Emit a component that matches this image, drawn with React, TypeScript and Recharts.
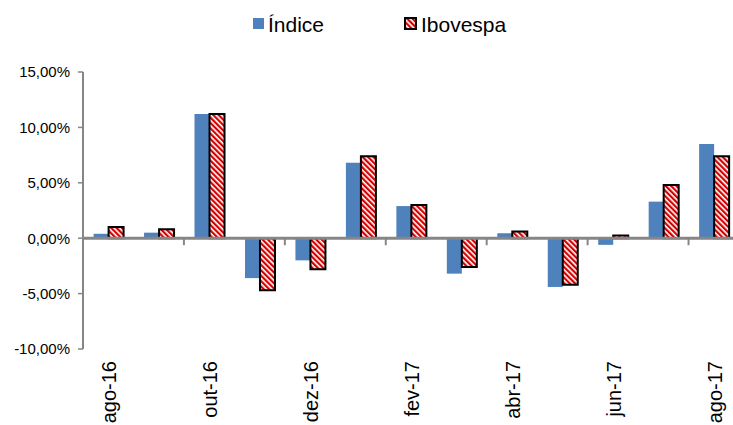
import React from 'react';
import { BarChart, Bar, XAxis, YAxis, ReferenceLine } from 'recharts';

const months = ['ago-16', 'set-16', 'out-16', 'nov-16', 'dez-16', 'jan-17', 'fev-17', 'mar-17', 'abr-17', 'mai-17', 'jun-17', 'jul-17', 'ago-17'];
const indice = [0.4, 0.5, 11.2, -3.6, -2.0, 6.8, 2.9, -3.2, 0.45, -4.4, -0.6, 3.3, 8.5];
const ibovespa = [1.0, 0.8, 11.2, -4.7, -2.8, 7.4, 3.0, -2.6, 0.6, -4.2, 0.25, 4.8, 7.4];
const yTicks = [-10, -5, 0, 5, 10, 15];

const data = months.map((m, i) => ({ month: m, indice: indice[i], ibovespa: ibovespa[i] }));

const FONT = '"Liberation Sans", Arial, sans-serif';
const BLUE = '#4F81BD';
const RED = '#D40000';
const GREY = '#868686';

const fmtPct = (v: number) => v.toFixed(2).replace('.', ',') + '%';

const MonthTick = (props: any) => {
  const { x, y, payload } = props;
  const ty = y + 4;
  return (
    <text
      x={x}
      y={ty}
      dy={1}
      transform={`rotate(-90 ${x} ${ty})`}
      textAnchor="end"
      dominantBaseline="central"
      fontSize={20}
      fontFamily={FONT}
      fill="#000"
    >
      {payload.value}
    </text>
  );
};

// zero axis line with tick marks every two categories
const ZeroAxis = (props: any) => {
  const { x1, y1, x2 } = props;
  const band = (x2 - x1) / months.length;
  const marks = [];
  for (let i = 2; i < months.length; i += 2) {
    const x = x1 + band * i;
    marks.push(<line key={i} x1={x} x2={x} y1={y1} y2={y1 + 7} stroke={GREY} strokeWidth={2} />);
  }
  return (
    <g>
      <line x1={x1} x2={x2} y1={y1} y2={y1} stroke={GREY} strokeWidth={3} />
      {marks}
    </g>
  );
};

const HatchPattern = ({ id }: { id: string }) => (
  <pattern id={id} patternUnits="userSpaceOnUse" width={3.8} height={3.8} patternTransform="rotate(-45)">
    <rect width={3.8} height={3.8} fill="#fff" />
    <rect width={2.2} height={3.8} fill={RED} />
  </pattern>
);

const HatchSwatch = () => (
  <svg width={13} height={13} style={{ display: 'block' }}>
    <defs>
      <HatchPattern id="hatchLegend" />
    </defs>
    <rect x={1} y={1} width={11} height={11} fill="url(#hatchLegend)" stroke="#000" strokeWidth={2} />
  </svg>
);

const legendText: React.CSSProperties = { position: 'absolute', top: 14, fontFamily: FONT, fontSize: 21, lineHeight: '21px' };

export default function App() {
  return (
    <div style={{ position: 'absolute', left: 0, top: 0, width: 733, height: 425, overflow: 'hidden', background: '#fff' }}>
      <div style={{ position: 'absolute', left: 253, top: 18, width: 11, height: 11, background: BLUE }} />
      <div style={{ ...legendText, left: 268 }}>Índice</div>
      <div style={{ position: 'absolute', left: 404, top: 17 }}>
        <HatchSwatch />
      </div>
      <div style={{ ...legendText, left: 421 }}>Ibovespa</div>

      <BarChart
        width={745}
        height={425}
        data={data}
        margin={{ top: 72, right: 6, left: 0, bottom: 0 }}
        barCategoryGap="21%"
        barGap={0}
      >
        <defs>
          <HatchPattern id="hatch" />
        </defs>
        <XAxis
          dataKey="month"
          interval={1}
          axisLine={false}
          tickLine={false}
          height={76}
          tick={<MonthTick />}
        />
        <YAxis
          domain={[-10, 15]}
          ticks={yTicks}
          tickFormatter={fmtPct}
          width={83}
          axisLine={{ stroke: GREY, strokeWidth: 2 }}
          tickLine={{ stroke: GREY, strokeWidth: 1.5 }}
          tickSize={5}
          tickMargin={8}
          tick={{ fill: '#000', fontSize: 15, fontFamily: FONT }}
        />
        <Bar dataKey="indice" fill={BLUE} isAnimationActive={false} />
        <Bar dataKey="ibovespa" fill="url(#hatch)" stroke="#000" strokeWidth={2} isAnimationActive={false} />
        <ReferenceLine y={0} shape={<ZeroAxis />} />
      </BarChart>
    </div>
  );
}
